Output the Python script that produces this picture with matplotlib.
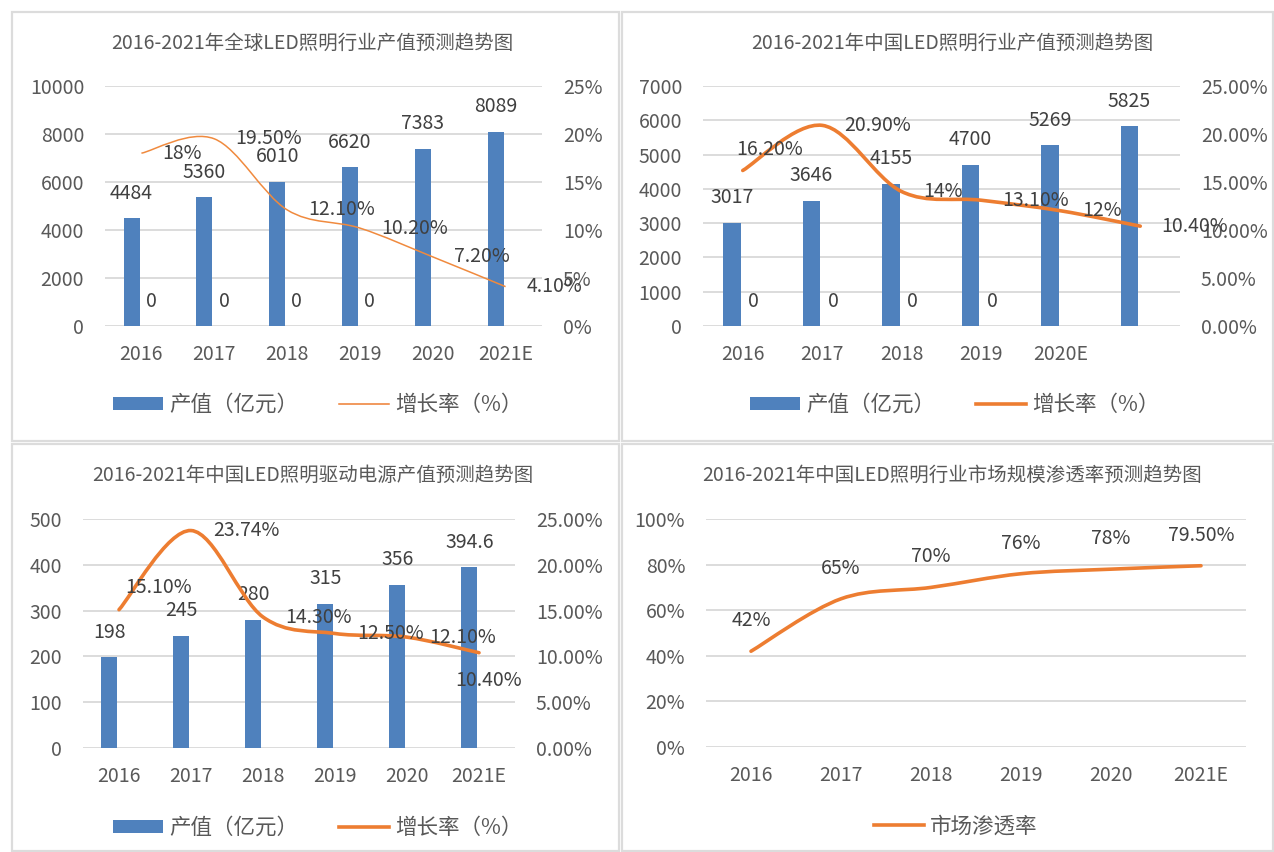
import matplotlib
matplotlib.use("Agg")
import matplotlib.pyplot as plt
import numpy as np
from matplotlib.path import Path
from matplotlib.patches import PathPatch, Rectangle, Patch
from matplotlib.lines import Line2D

plt.rcParams['font.family'] = ['Noto Sans CJK SC', 'DejaVu Sans']

# ---------------- data ----------------
years_a = ['2016', '2017', '2018', '2019', '2020', '2021E']
years_b = ['2016', '2017', '2018', '2019', '2020E', '']

global_value = [4484, 5360, 6010, 6620, 7383, 8089]
global_zero = [0, 0, 0, 0]
global_growth = [18.0, 19.5, 12.1, 10.2, 7.2, 4.1]
global_growth_lbl = ['18%', '19.50%', '12.10%', '10.20%', '7.20%', '4.10%']

china_value = [3017, 3646, 4155, 4700, 5269, 5825]
china_zero = [0, 0, 0, 0]
china_growth = [16.2, 20.9, 14.0, 13.1, 12.0, 10.4]
china_growth_lbl = ['16.20%', '20.90%', '14%', '13.10%', '12%', '10.40%']

driver_value = [198, 245, 280, 315, 356, 394.6]
driver_value_lbl = ['198', '245', '280', '315', '356', '394.6']
driver_growth = [15.1, 23.74, 14.3, 12.5, 12.1, 10.4]
driver_growth_lbl = ['15.10%', '23.74%', '14.30%', '12.50%', '12.10%', '10.40%']

penetration = [42, 65, 70, 76, 78, 79.5]
penetration_lbl = ['42%', '65%', '70%', '76%', '78%', '79.50%']

titles = ['2016-2021年全球LED照明行业产值预测趋势图',
          '2016-2021年中国LED照明行业产值预测趋势图',
          '2016-2021年中国LED照明驱动电源产值预测趋势图',
          '2016-2021年中国LED照明行业市场规模渗透率预测趋势图']

# ---------------- style ----------------
W, H = 1274, 852
BLUE = '#4F81BD'
ORANGE = '#ED7D31'
GRID = '#D9D9D9'
TICK = '#595959'
LBL = '#404040'
FS = 14
LFS = 14
TFS = 14
LEGFS = 15.5

fig = plt.figure(figsize=(W / 100, H / 100), dpi=100)


def rect(l, r, t, b):
    return [l / W, 1 - b / H, (r - l) / W, (b - t) / H]


# panel borders
for (l, t, r, b) in [(12, 12, 619, 441), (622, 12, 1273, 441),
                     (12, 444, 619, 851), (622, 444, 1273, 851)]:
    fig.patches.append(Rectangle((l / W, 1 - b / H), (r - l) / W, (b - t) / H,
                                 transform=fig.transFigure, fill=False,
                                 edgecolor='#DCDCDC', lw=1.6))


def smooth_path(xs, ys):
    xs = np.asarray(xs, float)
    ys = np.asarray(ys, float)
    n = len(xs)
    verts = [(xs[0], ys[0])]
    codes = [Path.MOVETO]
    for i in range(n - 1):
        i0 = max(i - 1, 0)
        i3 = min(i + 2, n - 1)
        c1 = (xs[i] + (xs[i + 1] - xs[i0]) / 6, ys[i] + (ys[i + 1] - ys[i0]) / 6)
        c2 = (xs[i + 1] - (xs[i3] - xs[i]) / 6, ys[i + 1] - (ys[i3] - ys[i]) / 6)
        verts += [c1, c2, (xs[i + 1], ys[i + 1])]
        codes += [Path.CURVE4] * 3
    return Path(verts, codes)


def base_axes(pos, ylim, yticks, yfmt, xlabels):
    ax = fig.add_axes(pos)
    ax.set_xlim(-0.5, 5.5)
    ax.set_ylim(*ylim)
    ax.set_yticks(yticks)
    ax.set_yticklabels([yfmt(v) for v in yticks])
    ax.set_xticks(np.arange(6))
    ax.set_xticklabels(xlabels)
    for s in ax.spines.values():
        s.set_visible(False)
    ax.tick_params(length=0, labelsize=FS, colors=TICK, pad=15)
    ax.tick_params(axis='x', pad=13)
    ax.grid(axis='y', color=GRID, lw=1.3)
    ax.set_axisbelow(True)
    return ax


def right_axis(ax, yticks, fmt):
    ax2 = ax.twinx()
    ax2.set_ylim(yticks[0], yticks[-1])
    ax2.set_yticks(yticks)
    ax2.set_yticklabels([fmt(v) for v in yticks])
    for s in ax2.spines.values():
        s.set_visible(False)
    ax2.tick_params(length=0, labelsize=FS, colors=TICK, pad=15)
    ax2.patch.set_visible(False)
    return ax2


def add_title(cx, cy, text):
    fig.text(cx / W, 1 - cy / H, text, ha='center', va='center',
             fontsize=TFS, color=TICK)


x = np.arange(6)
BW = 0.22
OFF = 0.135
pct0 = lambda v: f'{v:.0f}%'
pct2 = lambda v: f'{v:.2f}%'
intf = lambda v: f'{v:.0f}'


def bar_labels(ax, xs, vals, texts):
    for xi, v, t in zip(xs, vals, texts):
        ax.annotate(t, (xi, v), xytext=(0, 18), textcoords='offset points',
                    ha='center', va='center', fontsize=LFS, color=LBL)


def legend_bar_line(ax, anchor, lw):
    handles = [Patch(facecolor=BLUE, edgecolor='none'),
               Line2D([], [], color=ORANGE, lw=lw)]
    leg = ax.legend(handles, ['产值（亿元）', '增长率（%）'], loc='center',
                    bbox_to_anchor=anchor, bbox_transform=fig.transFigure,
                    ncol=2, frameon=False, fontsize=LEGFS, handlelength=2.3,
                    handleheight=0.55, handletextpad=0.3, columnspacing=1.9)
    for t in leg.get_texts():
        t.set_color(TICK)


# ---------------- panel 1 ----------------
ax = base_axes(rect(105, 542, 86, 326), (0, 10000), np.arange(0, 10001, 2000), intf, years_a)
ax.bar(x - OFF, global_value, BW, color=BLUE)
ax.bar(x[:4] + OFF, global_zero, BW, color='#C0504D')
bar_labels(ax, x - OFF, global_value, [str(v) for v in global_value])
bar_labels(ax, x[:4] + OFF, global_zero, ['0'] * 4)
ax2 = right_axis(ax, np.arange(0, 26, 5), pct0)
ax2.add_patch(PathPatch(smooth_path(x, global_growth), fill=False,
                        edgecolor='#F08A3E', lw=1.1))
for xi, v, t in zip(x, global_growth, global_growth_lbl):
    ax2.text(xi + 0.29, v, t, ha='left', va='center', fontsize=LFS, color=LBL, clip_on=False)
add_title(312, 43, titles[0])
legend_bar_line(ax, (318 / W, 1 - 405 / H), 1.1)

# ---------------- panel 2 ----------------
ax = base_axes(rect(703, 1180, 86, 326), (0, 7000), np.arange(0, 7001, 1000), intf, years_b)
ax.bar(x - OFF, china_value, BW, color=BLUE)
ax.bar(x[:4] + OFF, china_zero, BW, color='#C0504D')
bar_labels(ax, x - OFF, china_value, [str(v) for v in china_value])
bar_labels(ax, x[:4] + OFF, china_zero, ['0'] * 4)
ax2 = right_axis(ax, np.arange(0, 26, 5), pct2)
ax2.add_patch(PathPatch(smooth_path(x, china_growth), fill=False,
                        edgecolor=ORANGE, lw=2.6, capstyle='round'))
for i, (xi, v, t) in enumerate(zip(x, china_growth, china_growth_lbl)):
    if i == 0:
        ax2.annotate(t, (xi + 0.34, v), xytext=(0, 15), textcoords='offset points',
                     ha='center', va='center', fontsize=LFS, color=LBL)
    else:
        ax2.text(xi + 0.27, v, t, ha='left', va='center', fontsize=LFS, color=LBL, clip_on=False)
add_title(952, 43, titles[1])
legend_bar_line(ax, (955 / W, 1 - 405 / H), 2.6)

# ---------------- panel 3 ----------------
ax = base_axes(rect(83, 515, 519, 748), (0, 500), np.arange(0, 501, 100), intf, years_a)
ax.bar(x - OFF, driver_value, BW, color=BLUE)
bar_labels(ax, x - OFF, driver_value, driver_value_lbl)
ax2 = right_axis(ax, np.arange(0, 26, 5), pct2)
ax2.add_patch(PathPatch(smooth_path(x, driver_growth), fill=False,
                        edgecolor=ORANGE, lw=2.6, capstyle='round'))
for i, (xi, v, t) in enumerate(zip(x, driver_growth, driver_growth_lbl)):
    if i == 0:
        ax2.annotate(t, (xi + 0.085, v), xytext=(0, 16), textcoords='offset points',
                     ha='left', va='center', fontsize=LFS, color=LBL)
    elif i == 5:
        ax2.annotate(t, (xi + 0.13, v), xytext=(0, -20), textcoords='offset points',
                     ha='center', va='center', fontsize=LFS, color=LBL)
    else:
        ax2.text(xi + 0.31, v, t, ha='left', va='center', fontsize=LFS, color=LBL, clip_on=False)
add_title(313, 475, titles[2])
legend_bar_line(ax, (318 / W, 1 - 828 / H), 2.6)

# ---------------- panel 4 ----------------
ax = base_axes(rect(706, 1246, 519, 747), (0, 100), np.arange(0, 101, 20), pct0, years_a)
ax.add_patch(PathPatch(smooth_path(x, penetration), fill=False,
                       edgecolor=ORANGE, lw=2.6, capstyle='round'))
for xi, v, t in zip(x, penetration, penetration_lbl):
    ax.annotate(t, (xi, v), xytext=(0, 22), textcoords='offset points',
                ha='center', va='center', fontsize=LFS, color=LBL)
add_title(952, 475, titles[3])
leg = ax.legend([Line2D([], [], color=ORANGE, lw=2.6)], ['市场渗透率'], loc='center',
                bbox_to_anchor=(956 / W, 1 - 827 / H), bbox_transform=fig.transFigure,
                frameon=False, fontsize=LEGFS, handlelength=2.3, handletextpad=0.3)
for t in leg.get_texts():
    t.set_color(TICK)

fig.savefig('out.png', dpi=100)
